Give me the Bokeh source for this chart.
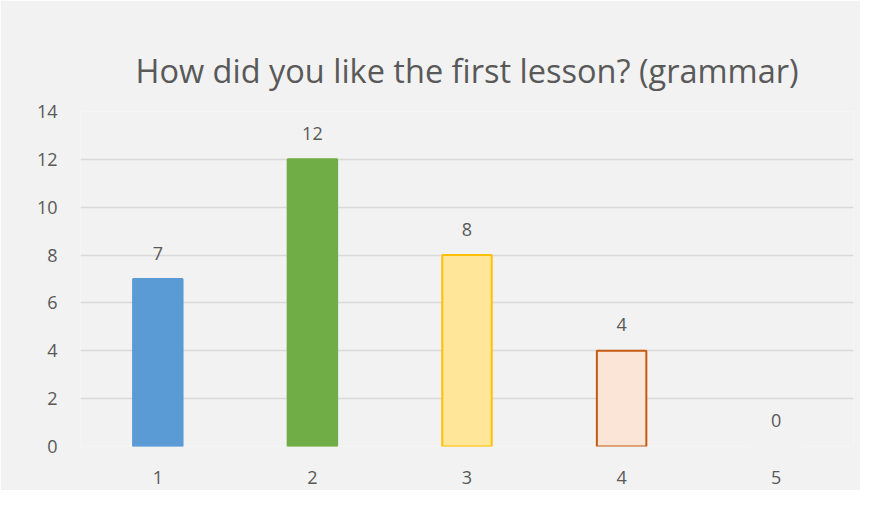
from bokeh.plotting import figure
from bokeh.models import ColumnDataSource, FactorRange, Range1d, FixedTicker
from bokeh.embed import file_html
from bokeh.resources import INLINE
from bokeh.core.properties import value

title_text = "How did you like the first lesson? (grammar)"
categories = ["1", "2", "3", "4", "5"]
counts = [7, 12, 8, 4, 0]
fill_colors = ["#5b9bd5", "#70ad47", "#ffe699", "#fbe5d6", "#f2f2f2"]
line_colors = ["#5b9bd5", "#70ad47", "#ffc000", "#c55a11", "#f2f2f2"]
y_ticks = [0, 2, 4, 6, 8, 10, 12, 14]

FONT = "Open Sans"
TXT = "#595959"
BG = "#f2f2f2"

src = ColumnDataSource(dict(cat=categories, val=counts, fill=fill_colors,
                            line=line_colors, lab=[str(v) for v in counts]))

p = figure(width=860, height=490, x_range=FactorRange(*categories, range_padding=0),
           y_range=Range1d(0, 14), output_backend="svg", toolbar_location=None,
           min_border_left=80, min_border_right=7, min_border_top=111, min_border_bottom=44)
p.background_fill_color = BG
p.border_fill_color = BG
p.outline_line_color = None

p.title.text = title_text
p.title.align = "center"
p.title.text_font = FONT
p.title.text_font_size = "32.5px"
p.title.text_font_style = "normal"
p.title.text_color = TXT
p.title.standoff = 38

p.vbar(x="cat", top="val", width=0.32, source=src, fill_color="fill",
       line_color="line", line_width=2)

p.text(x="cat", y="val", text="lab", source=src, text_align="center",
       text_baseline="middle", y_offset=-26, text_font=value(FONT),
       text_font_size="18px", text_color=TXT)

p.xgrid.grid_line_color = None
p.ygrid.grid_line_color = "#d9d9d9"
p.ygrid.grid_line_width = 1.5
p.yaxis.ticker = FixedTicker(ticks=y_ticks)

for ax in (p.xaxis[0], p.yaxis[0]):
    ax.axis_line_color = None
    ax.major_tick_line_color = None
    ax.minor_tick_line_color = None
    ax.major_label_text_font = FONT
    ax.major_label_text_font_size = "18px"
    ax.major_label_text_color = TXT
p.yaxis.major_label_standoff = 17
p.xaxis.major_label_standoff = 18

open("out.html", "w").write(file_html(p, INLINE))
